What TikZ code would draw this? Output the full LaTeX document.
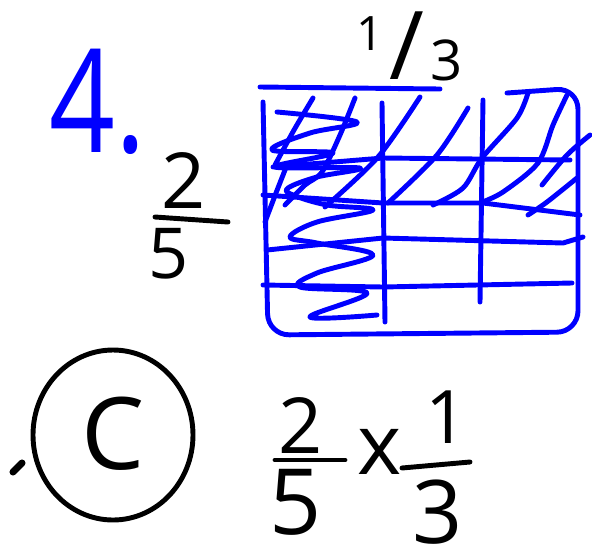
\documentclass[tikz,border=0pt]{standalone}
\usepackage{fontspec}
\setmainfont{Open Sans}
\definecolor{penblue}{HTML}{0000FF}
\definecolor{penink}{HTML}{000000}
\tikzset{
  bluepen/.style={draw=penblue,line width=2.8pt,line cap=round,line join=round},
  inkpen/.style={draw=penink,line width=2.8pt,line cap=round,line join=round},
  digit/.style={text=penink,inner sep=0pt,font=\fontsize{44}{44}\selectfont},
  fs/.style={font=\fontsize{#1}{#1}\selectfont},
}
\begin{document}
\begin{tikzpicture}[x=0.02cm,y=-0.02cm]
  \useasboundingbox (0,0) rectangle (592,552);
  % heading
  \node[digit,fs=82,text=penblue,xscale=0.8] (num) at (98,102) {4.};
  \node[digit,fs=27] (thirdtop) at (370,34) {1};
  \node[digit,fs=54] (thirdbar) at (407,46) {/};
  \node[digit,fs=32] (thirdbot) at (447,60) {3};
  % side fraction
  \node[digit] (sidetop) at (184,181) {2};
  \node[digit,fs=40] (sidebot) at (169,254) {5};
  \draw[inkpen] (155,217) -- (228,222);
  % grid outline
  \draw[bluepen] (260,87) -- (440,89);
  \draw[bluepen,rounded corners=12pt] (263,102) -- (268,335) -- (578,332) -- (578,88) -- (507,93);
  % columns
  \draw[bluepen] (382,103) -- (385,322);
  \draw[bluepen] (483,100) -- (480,302);
  % rows
  \draw[bluepen] (273,167) -- (383,158) -- (570,160);
  \draw[bluepen] (263,195) -- (383,203) -- (483,203) -- (580,215);
  \draw[bluepen] (267,250) -- (383,238) -- (563,243) -- (583,237);
  \draw[bluepen] (263,285) -- (383,287) -- (572,283);
  % hatching of the top two rows
  \draw[bluepen] plot[smooth] coordinates {(313,98) (294,130) (275,165)};
  \draw[bluepen] plot[smooth] coordinates {(355,98) (340,135) (322,172) (305,185) (285,205)};
  \draw[bluepen] plot[smooth] coordinates {(287,165) (276,193) (265,222)};
  \draw[bluepen] plot[smooth] coordinates {(420,97) (378,157) (325,207)};
  \draw[bluepen] plot[smooth] coordinates {(468,108) (437,155) (388,203)};
  \draw[bluepen] plot[smooth] coordinates {(528,93) (517,118) (482,158) (463,188) (433,205)};
  \draw[bluepen] plot[smooth] coordinates {(567,95) (553,125) (538,163) (503,192) (480,203)};
  \draw[bluepen] plot[smooth] coordinates {(590,135) (567,155) (542,185)};
  \draw[bluepen] plot[smooth] coordinates {(577,178) (547,202) (528,215)};
  % scribble in the left column
  \draw[bluepen] plot[smooth,tension=0.6] coordinates {(277,112) (357,122) (310,133)
      (272,150) (333,153) (275,167) (360,168) (317,177) (288,188) (293,195)
      (327,205) (373,210) (317,222) (290,237) (317,243) (373,255) (317,273)
      (300,287) (367,293) (310,317) (377,315)};
  % answer
  \draw[inkpen] (113,435) ellipse [x radius=80,y radius=85];
  \node[digit,fs=57] (choice) at (113,434) {C};
  \draw[inkpen,line width=4pt] (13,472) -- (22,463);
  % product
  \node[digit] (ltop) at (301,426) {2};
  \node[digit,fs=52] (lbot) at (296,502) {5};
  \draw[inkpen] (275,460) -- (345,460);
  \node[digit,fs=48] (times) at (380,452) {x};
  \node[digit,fs=42] (rtop) at (447,417) {1};
  \node[digit,fs=50] (rbot) at (438,512) {3};
  \draw[inkpen] (402,468) -- (470,462);
\end{tikzpicture}
\end{document}
